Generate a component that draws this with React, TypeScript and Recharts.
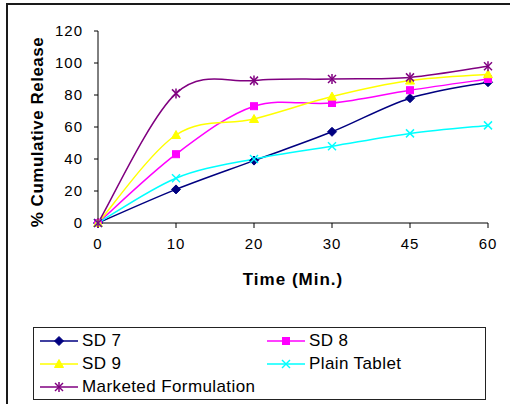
import { CartesianGrid, Legend, Line, LineChart, XAxis, YAxis } from 'recharts'

const times = ['0', '10', '20', '30', '45', '60']
const sd7 = [0, 21, 39, 57, 78, 88]
const sd8 = [0, 43, 73, 75, 83, 90]
const sd9 = [0, 55, 65, 79, 89, 93]
const plainTablet = [0, 28, 40, 48, 56, 61]
const marketed = [0, 81, 89, 90, 91, 98]
const yTicks = [0, 20, 40, 60, 80, 100, 120]

const data = times.map((t, i) => ({
  t,
  sd7: sd7[i],
  sd8: sd8[i],
  sd9: sd9[i],
  plain: plainTablet[i],
  marketed: marketed[i],
}))

const FONT = '"Liberation Sans", Arial, sans-serif'

// excel-ish smoothing: catmull-rom segments as cubic beziers
function smoothCurve(context: any) {
  let pts: [number, number][] = []
  return {
    areaStart() {},
    areaEnd() {},
    lineStart() {
      pts = []
    },
    lineEnd() {
      if (!pts.length) return
      context.moveTo(pts[0][0], pts[0][1])
      for (let i = 0; i < pts.length - 1; i++) {
        const p0 = pts[Math.max(i - 1, 0)]
        const p1 = pts[i]
        const p2 = pts[i + 1]
        const p3 = pts[Math.min(i + 2, pts.length - 1)]
        context.bezierCurveTo(
          p1[0] + (p2[0] - p0[0]) / 6,
          p1[1] + (p2[1] - p0[1]) / 6,
          p2[0] - (p3[0] - p1[0]) / 6,
          p2[1] - (p3[1] - p1[1]) / 6,
          p2[0],
          p2[1],
        )
      }
    },
    point(x: number, y: number) {
      pts.push([x, y])
    },
  }
}

type Shape = 'diamond' | 'square' | 'triangle' | 'cross' | 'star'

function Marker({ cx, cy, shape, color }: { cx: number; cy: number; shape: Shape; color: string }) {
  if (shape === 'diamond')
    return <polygon points={`${cx},${cy - 4.5} ${cx + 4.5},${cy} ${cx},${cy + 4.5} ${cx - 4.5},${cy}`} fill={color} stroke={color} />
  if (shape === 'square')
    return <rect x={cx - 3.5} y={cy - 3.5} width={7} height={7} fill={color} stroke={color} />
  if (shape === 'triangle')
    return <polygon points={`${cx},${cy - 4.5} ${cx + 4.5},${cy + 3.5} ${cx - 4.5},${cy + 3.5}`} fill={color} stroke={color} />
  if (shape === 'cross')
    return (
      <g stroke={color} strokeWidth={1.5}>
        <line x1={cx - 4} y1={cy - 4} x2={cx + 4} y2={cy + 4} />
        <line x1={cx - 4} y1={cy + 4} x2={cx + 4} y2={cy - 4} />
      </g>
    )
  return (
    <g stroke={color} strokeWidth={1.5}>
      <line x1={cx - 4} y1={cy - 4} x2={cx + 4} y2={cy + 4} />
      <line x1={cx - 4} y1={cy + 4} x2={cx + 4} y2={cy - 4} />
      <line x1={cx} y1={cy - 5} x2={cx} y2={cy + 5} />
    </g>
  )
}

const seriesList: { key: string; name: string; color: string; shape: Shape }[] = [
  { key: 'sd7', name: 'SD 7', color: '#000080', shape: 'diamond' },
  { key: 'sd8', name: 'SD 8', color: '#FF00FF', shape: 'square' },
  { key: 'sd9', name: 'SD 9', color: '#FFFF00', shape: 'triangle' },
  { key: 'plain', name: 'Plain Tablet', color: '#00FFFF', shape: 'cross' },
  { key: 'marketed', name: 'Marketed Formulation', color: '#800080', shape: 'star' },
]

function LegendBox() {
  return (
    <div
      style={{
        border: '1px solid #222',
        boxSizing: 'border-box',
        width: 453,
        height: 73,
        padding: '1px 0 0 6px',
        display: 'grid',
        gridTemplateColumns: '227px 220px',
        gridAutoRows: '23px',
        fontFamily: FONT,
        fontSize: 17,
        letterSpacing: 0.4,
        color: '#000',
      }}
    >
      {seriesList.map((s) => (
        <div key={s.key} style={{ display: 'flex', alignItems: 'center' }}>
          <svg width={38} height={12} style={{ marginRight: 4 }}>
            <line x1={0} y1={6} x2={38} y2={6} stroke={s.color} strokeWidth={1.5} />
            <Marker cx={19} cy={6} shape={s.shape} color={s.color} />
          </svg>
          <span>{s.name}</span>
        </div>
      ))}
    </div>
  )
}

function YLabel({ viewBox }: any) {
  const x = viewBox.x + 9
  const y = viewBox.y + viewBox.height / 2 + 5
  return (
    <text
      x={x}
      y={y}
      transform={`rotate(-90, ${x}, ${y})`}
      textAnchor="middle"
      dominantBaseline="central"
      fill="#000"
      fontSize={17}
      fontWeight="bold"
      letterSpacing={0.5}
    >
      % Cumulative Release
    </text>
  )
}

export default function App() {
  return (
    <div style={{ position: 'absolute', left: 0, top: 0, width: 510, height: 404, overflow: 'hidden', background: '#fff' }}>
      <div
        style={{
          position: 'absolute',
          left: 6,
          top: 3,
          width: 504,
          height: 401,
          borderTop: '2px solid #1a1a1a',
          borderLeft: '2px solid #1a1a1a',
          boxSizing: 'border-box',
        }}
      />
      <LineChart
        width={510}
        height={404}
        data={data}
        margin={{ top: 31, right: 22, left: 28, bottom: 119 }}
        style={{ fontFamily: FONT }}
      >
        <CartesianGrid stroke="none" />
        <XAxis
          dataKey="t"
          stroke="#000"
          tickSize={5}
          tickMargin={10}
          height={62}
          tick={{ fill: '#000', fontSize: 15, letterSpacing: 1 }}
          tickLine={{ stroke: '#000' }}
          label={{
            value: 'Time (Min.)',
            position: 'insideBottom',
            offset: 0,
            fill: '#000',
            fontSize: 17,
            fontWeight: 'bold',
            letterSpacing: 1,
          }}
        />
        <YAxis
          domain={[0, 120]}
          ticks={yTicks}
          stroke="#000"
          width={70}
          tickSize={4}
          tickMargin={11}
          tick={{ fill: '#000', fontSize: 15, letterSpacing: 1 }}
          tickLine={{ stroke: '#000' }}
          label={<YLabel />}
        />
        {seriesList.map((s) => (
          <Line
            key={s.key}
            dataKey={s.key}
            name={s.name}
            type={smoothCurve as any}
            stroke={s.color}
            strokeWidth={1.5}
            isAnimationActive={false}
            dot={(p: any) => <Marker key={`${s.key}-${p.index}`} cx={p.cx} cy={p.cy} shape={s.shape} color={s.color} />}
            activeDot={false}
          />
        ))}
        <Legend
          layout="horizontal"
          verticalAlign="middle"
          align="center"
          content={() => <LegendBox />}
          wrapperStyle={{ left: 33, top: 327, width: 453, height: 73 }}
        />
      </LineChart>
    </div>
  )
}
